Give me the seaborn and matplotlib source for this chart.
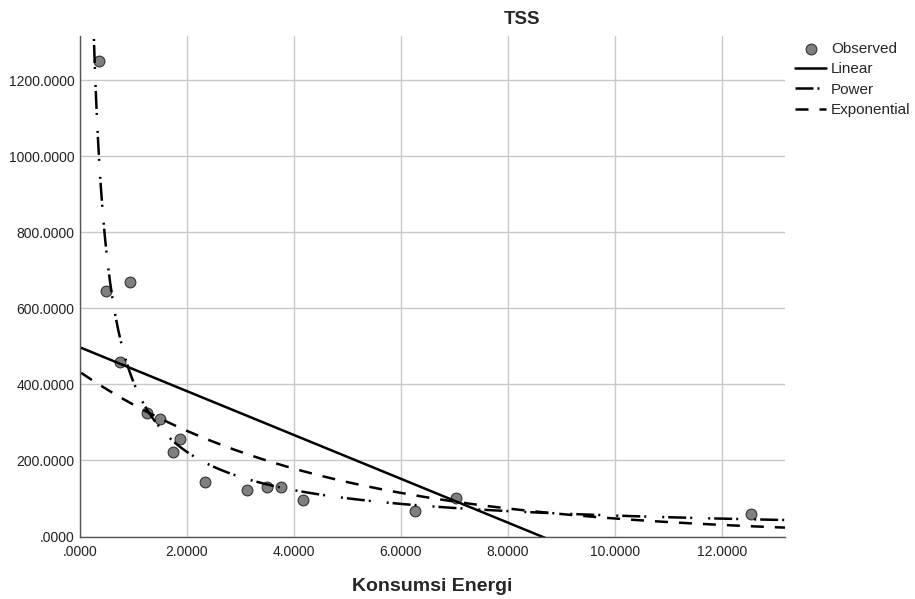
import numpy as np
import pandas as pd
import matplotlib
matplotlib.use("Agg")
import matplotlib.pyplot as plt
from matplotlib.ticker import FuncFormatter, MultipleLocator
import seaborn as sns

# Observed values: energy consumption vs. TSS
energy = [0.355, 0.479, 0.935, 0.750, 1.250, 1.500, 1.740, 1.870,
          2.340, 3.120, 3.500, 3.760, 4.170, 6.260, 7.030, 12.540]
tss = [1249, 646, 668, 459, 325, 310, 223, 257,
       142, 121, 131, 129, 97, 68, 100, 60]

x_max = 13.18
y_max = 1316

sns.set_style("white")
plt.rcParams["font.family"] = ["Liberation Sans", "DejaVu Sans"]

fig = plt.figure(figsize=(9.15, 5.99), dpi=100)
ax = fig.add_axes([80 / 915, 1 - 536.5 / 599, 705 / 915, 500.5 / 599])

# Curve estimation: linear, power (log-log) and exponential (log-y) fits
x = np.asarray(energy, dtype=float)
y = np.asarray(tss, dtype=float)
lin_b, lin_a = np.polyfit(x, y, 1)
pow_b, pow_lna = np.polyfit(np.log(x), np.log(y), 1)
exp_b, exp_lna = np.polyfit(x, np.log(y), 1)

grid = np.linspace(0.02, x_max, 1500)
fits = pd.DataFrame({
    "x": grid,
    "Linear": lin_a + lin_b * grid,
    "Power": np.exp(pow_lna) * grid ** pow_b,
    "Exponential": np.exp(exp_lna) * np.exp(exp_b * grid),
})

sns.scatterplot(x=energy, y=tss, s=60, color="#7f7f7f", edgecolor="#333333",
                linewidth=0.8, label="Observed", ax=ax)

styles = {
    "Linear": "-",
    "Power": (0, (7.2, 1.6, 0.8, 6.4, 0.8, 1.6)),
    "Exponential": (0, (5.2, 4.4)),
}
for name, ls in styles.items():
    sns.lineplot(data=fits, x="x", y=name, color="black", linewidth=1.8,
                 linestyle=ls, label=name, ax=ax, sort=False)

ax.set_xlim(0, x_max)
ax.set_ylim(0, y_max)
ax.xaxis.set_major_locator(MultipleLocator(2))
ax.yaxis.set_major_locator(MultipleLocator(200))


def fmt(v, pos):
    s = f"{v:.4f}"
    return s[1:] if s.startswith("0.") else s


ax.xaxis.set_major_formatter(FuncFormatter(fmt))
ax.yaxis.set_major_formatter(FuncFormatter(fmt))
ax.tick_params(axis="both", length=0, labelsize=10, colors="#222222")
ax.tick_params(axis="x", pad=6)
ax.tick_params(axis="y", pad=4)

ax.grid(True, color="#c8c8c8", linewidth=1)
ax.set_axisbelow(True)
for side in ("top", "right"):
    ax.spines[side].set_visible(False)
for side in ("left", "bottom"):
    ax.spines[side].set_color("#555555")
    ax.spines[side].set_linewidth(1)

ax.set_xlabel("Konsumsi Energi", fontsize=14, fontweight="bold", labelpad=14)
ax.set_ylabel("")
fig.text(522 / 915, 1 - 20 / 599, "TSS", ha="center", va="center",
         fontsize=13.5, fontweight="bold")

leg = ax.legend(loc="upper left", bbox_to_anchor=(795 / 915, 1 - 42 / 599),
                bbox_transform=fig.transFigure, frameon=False, borderpad=0,
                borderaxespad=0, handlelength=2.05, handletextpad=0.3,
                labelspacing=0.42, fontsize=11)

fig.savefig("out.png", dpi=100)
